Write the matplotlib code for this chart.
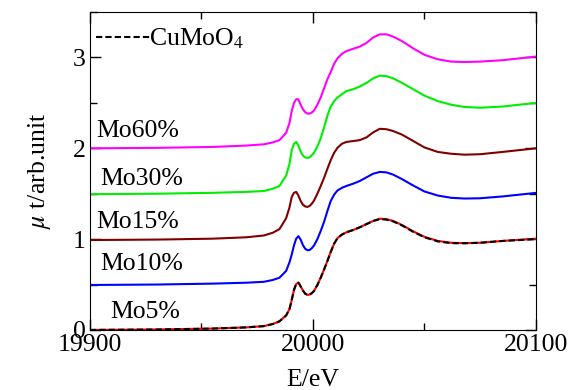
import matplotlib
matplotlib.use('Agg')
import matplotlib.pyplot as plt
from matplotlib.ticker import MultipleLocator

plt.rcParams['font.family'] = ['Liberation Serif', 'DejaVu Serif']
plt.rcParams['mathtext.fontset'] = 'stix'

#%% Data (normalised XANES, Mo K-edge, spectra offset by 0.5)

energy = [19900, 19930, 19955, 19970, 19978, 19982, 19985, 19988, 19989.5, 19990.5,
          19991.5, 19992.5, 19993.5, 19994.5, 19995.5, 19996.5, 19997.5, 19998.5,
          19999.5, 20000.5, 20002, 20003.5, 20005, 20006.5, 20008, 20009.5, 20011,
          20013, 20015, 20018, 20021, 20024, 20027, 20030, 20033, 20036, 20040,
          20045, 20050, 20056, 20062, 20068, 20075, 20085, 20100]

mo5 = [0.000, 0.005, 0.015, 0.028, 0.042, 0.065, 0.095, 0.16, 0.23, 0.33,
       0.44, 0.505, 0.522, 0.48, 0.435, 0.40, 0.386, 0.388,
       0.405, 0.43, 0.495, 0.575, 0.665, 0.76, 0.86, 0.95, 1.01,
       1.05, 1.075, 1.10, 1.13, 1.165, 1.20, 1.225, 1.22, 1.20, 1.155,
       1.085, 1.025, 0.98, 0.96, 0.955, 0.96, 0.98, 1.005]

cumoo4 = [0.000, 0.005, 0.015, 0.028, 0.042, 0.065, 0.095, 0.16, 0.23, 0.33,
          0.44, 0.505, 0.52, 0.48, 0.435, 0.40, 0.386, 0.388,
          0.405, 0.43, 0.495, 0.575, 0.665, 0.76, 0.86, 0.95, 1.01,
          1.05, 1.075, 1.10, 1.13, 1.165, 1.20, 1.22, 1.215, 1.195, 1.15,
          1.08, 1.02, 0.975, 0.955, 0.955, 0.96, 0.98, 1.00]

mo10 = [0.495, 0.50, 0.51, 0.52, 0.53, 0.55, 0.575, 0.65, 0.745, 0.83,
        0.93, 1.005, 1.033, 0.995, 0.935, 0.895, 0.878, 0.88,
        0.90, 0.93, 1.00, 1.09, 1.19, 1.31, 1.42, 1.49, 1.535,
        1.565, 1.585, 1.61, 1.64, 1.68, 1.72, 1.74, 1.735, 1.71, 1.66,
        1.59, 1.525, 1.48, 1.455, 1.447, 1.45, 1.47, 1.509]

mo15 = [0.99, 0.995, 1.005, 1.02, 1.04, 1.07, 1.11, 1.23, 1.35, 1.465,
        1.51, 1.52, 1.48, 1.42, 1.38, 1.36, 1.355, 1.365,
        1.39, 1.425, 1.50, 1.585, 1.675, 1.775, 1.87, 1.95, 2.005,
        2.05, 2.07, 2.08, 2.09, 2.12, 2.175, 2.215, 2.21, 2.19, 2.15,
        2.08, 2.01, 1.96, 1.94, 1.93, 1.935, 1.96, 2.00]

mo30 = [1.495, 1.50, 1.51, 1.52, 1.53, 1.555, 1.585, 1.70, 1.83, 1.98,
        2.05, 2.07, 2.03, 1.965, 1.92, 1.90, 1.894, 1.90,
        1.925, 1.95, 2.02, 2.11, 2.23, 2.36, 2.46, 2.52, 2.56,
        2.595, 2.63, 2.65, 2.68, 2.72, 2.77, 2.80, 2.795, 2.77, 2.72,
        2.65, 2.58, 2.52, 2.48, 2.455, 2.447, 2.46, 2.50]

mo60 = [2.00, 2.005, 2.015, 2.03, 2.044, 2.065, 2.09, 2.17, 2.28, 2.41,
        2.50, 2.54, 2.54, 2.48, 2.43, 2.40, 2.382, 2.382,
        2.395, 2.415, 2.48, 2.56, 2.66, 2.76, 2.84, 2.93, 2.99,
        3.04, 3.07, 3.095, 3.12, 3.16, 3.22, 3.255, 3.255, 3.23, 3.18,
        3.10, 3.03, 2.98, 2.955, 2.95, 2.955, 2.97, 3.01]

labels = ['Mo60%', 'Mo30%', 'Mo15%', 'Mo10%', 'Mo5%']
label_x = [19903, 19904.5, 19903, 19904.5, 19909]
label_y = [2.12, 1.60, 1.12, 0.66, 0.13]

#%% Plot

fig = plt.figure(figsize=(5.8, 3.9), dpi=100)
ax = fig.add_axes([0.155, 0.154, 0.769, 0.815])

ax.plot(energy, mo60, '-', color='#ff00ff', linewidth=1.5)
ax.plot(energy, mo30, '-', color='#00ee00', linewidth=1.5)
ax.plot(energy, mo15, '-', color='#800000', linewidth=1.5)
ax.plot(energy, mo10, '-', color='#0000ff', linewidth=1.5)
ax.plot(energy, mo5, '-', color='#ff0000', linewidth=1.5)
ax.plot(energy, cumoo4, '--', color='black', linewidth=1.5, dashes=(3, 1.5),
        label='CuMoO$_4$')

for lab, lx, ly in zip(labels, label_x, label_y):
    ax.text(lx, ly, lab, fontsize=18.5, ha='left', va='baseline')

ax.set_xlim(19900, 20100)
ax.set_ylim(0, 3.5)
ax.xaxis.set_major_locator(MultipleLocator(100))
ax.xaxis.set_minor_locator(MultipleLocator(50))
ax.yaxis.set_major_locator(MultipleLocator(1))
ax.yaxis.set_minor_locator(MultipleLocator(0.5))
ax.tick_params(which='both', direction='in', top=True, right=True, labelsize=18.5)
ax.tick_params(which='major', length=8, width=1)
ax.tick_params(which='minor', length=5, width=1)
ax.tick_params(axis='y', pad=3)
ax.tick_params(axis='x', pad=3)

ax.set_xlabel('E/eV', fontsize=18.5, labelpad=9)
ax.set_ylabel(r'$\mu$ t/arb.unit', fontsize=18.5, labelpad=14)

ax.legend(loc='upper left', bbox_to_anchor=(-0.015, 0.995), frameon=False,
          fontsize=18.5, handlelength=2.15, handletextpad=-0.1,
          borderaxespad=0.3, borderpad=0.2)

fig.savefig('out.png', dpi=100)
